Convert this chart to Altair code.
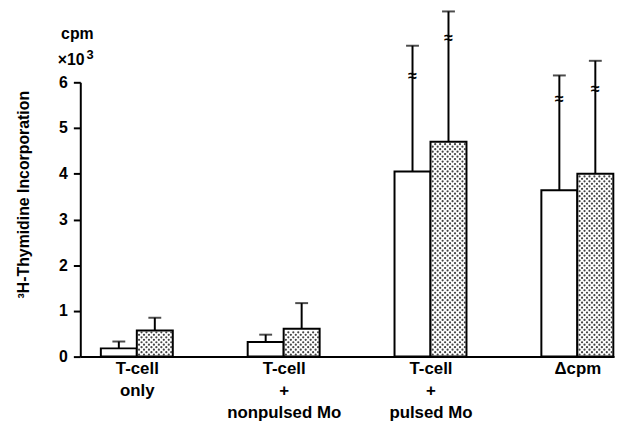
import json
import numpy as np
import altair as alt
import pandas as pd

# ---- data ----
categories = ["T-cell|only", "T-cell|+|nonpulsed Mo", "T-cell|+|pulsed Mo", "Δcpm"]
open_means = [0.18, 0.32, 4.05, 3.64]
open_tops = [0.33, 0.48, 6.80, 6.15]
dotted_means = [0.57, 0.61, 4.70, 4.00]
dotted_tops = [0.85, 1.17, 7.55, 6.47]
open_marks = [None, None, 6.13, 5.63]
dotted_marks = [None, None, 6.97, 5.85]
y_ticks = [0, 1, 2, 3, 4, 5, 6]

BAR_W = 0.245
rows = []
for i in range(len(categories)):
    rows.append(dict(series="open", x0=i - BAR_W, x1=i, center=i - BAR_W / 2,
                     mean=open_means[i], top=open_tops[i], mark=open_marks[i]))
    rows.append(dict(series="dotted", x0=i, x1=i + BAR_W, center=i + BAR_W / 2,
                     mean=dotted_means[i], top=dotted_tops[i], mark=dotted_marks[i]))
df = pd.DataFrame(rows)

# stipple texture inside the dotted bars (decoration derived from bar extents)
COL = 5 / 148.3      # 5 px horizontal pitch in x units
ROW = 2.5 / 46.17    # 2.5 px vertical pitch in y units
dots = []
for i in range(len(categories)):
    x0, x1, top = i, i + BAR_W, dotted_means[i]
    for r, yy in enumerate(np.arange(ROW * 0.8, top - ROW * 0.5, ROW)):
        off = COL / 2 if r % 2 else 0
        for xx in np.arange(x0 + COL * 0.45 + off, x1 - COL * 0.3, COL):
            dots.append(dict(x=xx, y=yy))
dots = pd.DataFrame(dots)

units = pd.DataFrame({"text": ["cpm", "×10", "3"],
                      "x": [-0.405, -0.447, -0.318],
                      "y": [6.95, 6.37, 6.52],
                      "size": [16, 16, 13]})

FONT = "Liberation Sans"
YTITLE = "³H-Thymidine Incorporation"
xscale = alt.Scale(domain=[-0.385, 3.25], nice=False, zero=False)
yscale = alt.Scale(domain=[0, 6], nice=False)

label_expr = "split(" + json.dumps(categories, ensure_ascii=False) + "[datum.value], '|')"

xaxis = alt.Axis(values=[0, 1, 2, 3], labelExpr=label_expr, ticks=False, tickSize=0,
                 grid=False, domainWidth=2, labelFontSize=17, labelFontWeight="bold",
                 labelBaseline="top", labelPadding=4, labelLineHeight=22,
                 labelOverlap=False, labelFlush=False, labelAlign="center")
yaxis = alt.Axis(values=y_ticks, format="d", tickSize=7, tickWidth=2, domainWidth=2,
                 grid=False, labelFontSize=16, labelFontWeight="bold", labelPadding=6,
                 titleFontSize=16, titleFontWeight="bold", titleAngle=270,
                 titleX=-57, titleY=113, titleAlign="center", titleBaseline="middle")

bars = alt.Chart(df).mark_bar(stroke="black", strokeWidth=2, fill="white").encode(
    x=alt.X("x0:Q", scale=xscale, axis=xaxis, title=None),
    x2="x1:Q",
    y=alt.Y("mean:Q", scale=yscale, axis=yaxis, title=YTITLE),
    y2=alt.datum(0),
)

stipple = alt.Chart(dots).mark_circle(color="#444444", size=5, opacity=1).encode(
    x=alt.X("x:Q", scale=xscale, title=None),
    y=alt.Y("y:Q", scale=yscale, title=YTITLE),
)

err = alt.Chart(df).mark_rule(color="black", strokeWidth=2).encode(
    x=alt.X("center:Q", scale=xscale, title=None),
    y=alt.Y("mean:Q", scale=yscale, title=YTITLE),
    y2="top:Q",
)

caps = alt.Chart(df).mark_tick(color="black", orient="horizontal", size=13, thickness=2).encode(
    x=alt.X("center:Q", scale=xscale, title=None),
    y=alt.Y("top:Q", scale=yscale, title=YTITLE),
)

marks = alt.Chart(df).transform_filter("datum.mark != null").mark_text(
    text="≈", fontSize=16, fontWeight="bold", color="black", baseline="middle"
).encode(
    x=alt.X("center:Q", scale=xscale, title=None),
    y=alt.Y("mark:Q", scale=yscale, title=YTITLE),
)

unit_text = alt.Chart(units).mark_text(
    fontWeight="bold", color="black", baseline="alphabetic", align="center", font=FONT
).encode(
    x=alt.X("x:Q", scale=xscale, title=None),
    y=alt.Y("y:Q", scale=yscale, title=YTITLE),
    text="text:N",
    size=alt.Size("size:Q", scale=None, legend=None),
)

chart = alt.layer(bars, stipple, err, caps, marks, unit_text).properties(
    width=539, height=277,
    autosize=alt.AutoSizeParams(type="none"),
    padding={"left": 73, "top": 73, "right": 5, "bottom": 64},
).configure_view(stroke=None).configure_axis(
    domainColor="black", tickColor="black", labelColor="black", titleColor="black",
    labelFont=FONT, titleFont=FONT,
)

chart.save("out.html", embed_options={"renderer": "svg", "actions": False})
